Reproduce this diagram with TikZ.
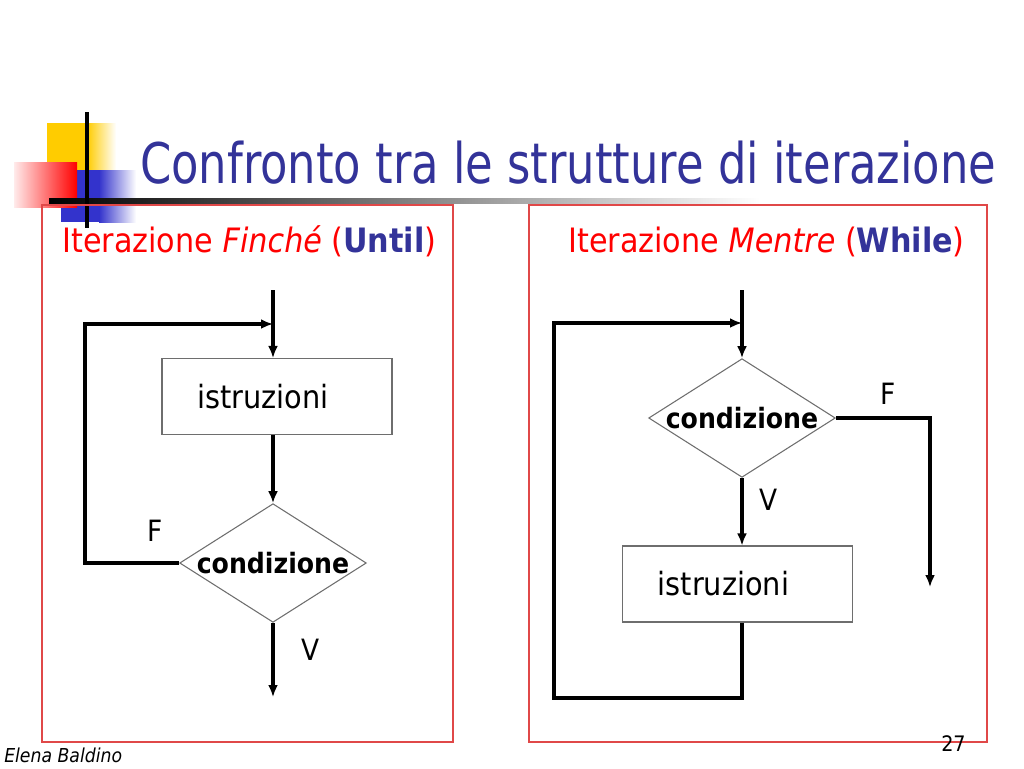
\documentclass[tikz,border=0pt]{standalone}
\usepackage{fontspec}
\setmainfont{DejaVu Sans Condensed}
\newfontfamily\titlefont[FakeStretch=0.89]{DejaVu Sans Condensed}
\usetikzlibrary{arrows.meta,shapes.geometric}
\definecolor{TitleBlue}{HTML}{333399}
\definecolor{SlideRed}{HTML}{FF0000}
\definecolor{FrameRed}{HTML}{E04848}
\definecolor{DecoYellow}{HTML}{FFCC00}
\definecolor{DecoBlue}{HTML}{3333CC}
\definecolor{BoxGray}{HTML}{6E6E6E}

\begin{document}
\begin{tikzpicture}[x=0.75pt,y=-0.75pt,
    box/.style={draw=BoxGray,line width=0.8pt,minimum width=172.5pt,minimum height=57pt,inner sep=0pt},
    cond/.style={diamond,draw=BoxGray,line width=0.8pt,minimum width=140pt,minimum height=89pt,inner sep=0pt},
    boxtext/.style={font=\fontsize{24}{28}\selectfont,xshift=-10.5pt},
    condtext/.style={font=\fontsize{21}{25}\selectfont\bfseries},
    flow/.style={-{Latex[length=9pt,width=7.5pt]},line width=2.4pt},
    frame/.style={draw=FrameRed,line width=0.8pt},
    branch/.style={font=\fontsize{22}{26}\selectfont},
    subtitle/.style={anchor=base west,inner sep=0pt,text=SlideRed,font=\fontsize{25.2}{30}\selectfont},
    >=Latex
  ]
  \useasboundingbox (0,0) rectangle (1024,768);
  % decoration
  \fill[DecoYellow] (47,123) rectangle (88,170);
  \shade[left color=DecoYellow,right color=white] (87,123) rectangle (116,170);
  \fill[DecoBlue] (61,170) rectangle (100,222);
  \shade[left color=DecoBlue,right color=white] (99,170) rectangle (136,222);
  \shade[left color=red!8,right color=red] (14,162) rectangle (77,207);
  \shade[left color=black,middle color=gray!55,right color=white] (49,198) rectangle (760,203);
  \draw[line width=2.3pt] (87,112) -- (87,228);
  \node[anchor=base west,inner sep=0pt,text=TitleBlue,font=\titlefont\fontsize{42}{48}\selectfont] (title) at (140,183) {Confronto tra le strutture di iterazione};
  % frames
  \draw[frame] (42,205) rectangle (453,742);
  \draw[frame] (529,205) rectangle (987,742);
  \node[subtitle] (sub1) at (62,252) {Iterazione \textit{Finché} (\textcolor{TitleBlue}{\textbf{Until}})};
  \node[subtitle] (sub2) at (568,252) {Iterazione \textit{Mentre} (\textcolor{TitleBlue}{\textbf{While}})};

  % until
  \coordinate (s1) at (273,290);
  \coordinate (m1) at (273,324);
  \coordinate (l1) at (85,324);
  \coordinate (e1) at (273,697);
  \node[box,label={[boxtext]center:istruzioni}] (b1) at (277,396.5) {};
  \node[cond,label={[condtext]center:condizione}] (d1) at (273,563) {};
  \draw[flow] (s1) -- (s1 |- b1.north);
  \draw[flow] (s1 |- b1.south) -- (d1.north);
  \draw[flow] (d1.south) -- (e1);
  \draw[flow] (d1.west) -| (l1) -- (m1);
  \node[branch] (f1) at (155,531) {F};
  \node[branch] (v1) at (311,650) {V};

  % while
  \coordinate (s2) at (742,290);
  \coordinate (m2) at (742,323);
  \coordinate (r2) at (554,698);
  \coordinate (o2) at (930,587);
  \node[cond,label={[condtext]center:condizione}] (d2) at (742,418) {};
  \node[box,label={[boxtext]center:istruzioni}] (b2) at (737.5,584) {};
  \draw[flow] (s2) -- (d2.north);
  \draw[flow] (d2.south) -- (d2.south |- b2.north);
  \draw[flow] (d2.south |- b2.south) |- (r2) |- (m2);
  \draw[flow] (d2.east) -| (o2);
  \node[branch] (f2) at (888,394) {F};
  \node[branch] (v2) at (769,500) {V};

  % footer
  \node[anchor=base west,inner sep=0pt,font=\fontsize{14.4}{17}\selectfont\itshape] (author) at (4,762) {Elena Baldino};
  \node[anchor=base west,inner sep=0pt,font=\fontsize{16}{19}\selectfont] (page) at (941,751) {27};
\end{tikzpicture}
\end{document}
